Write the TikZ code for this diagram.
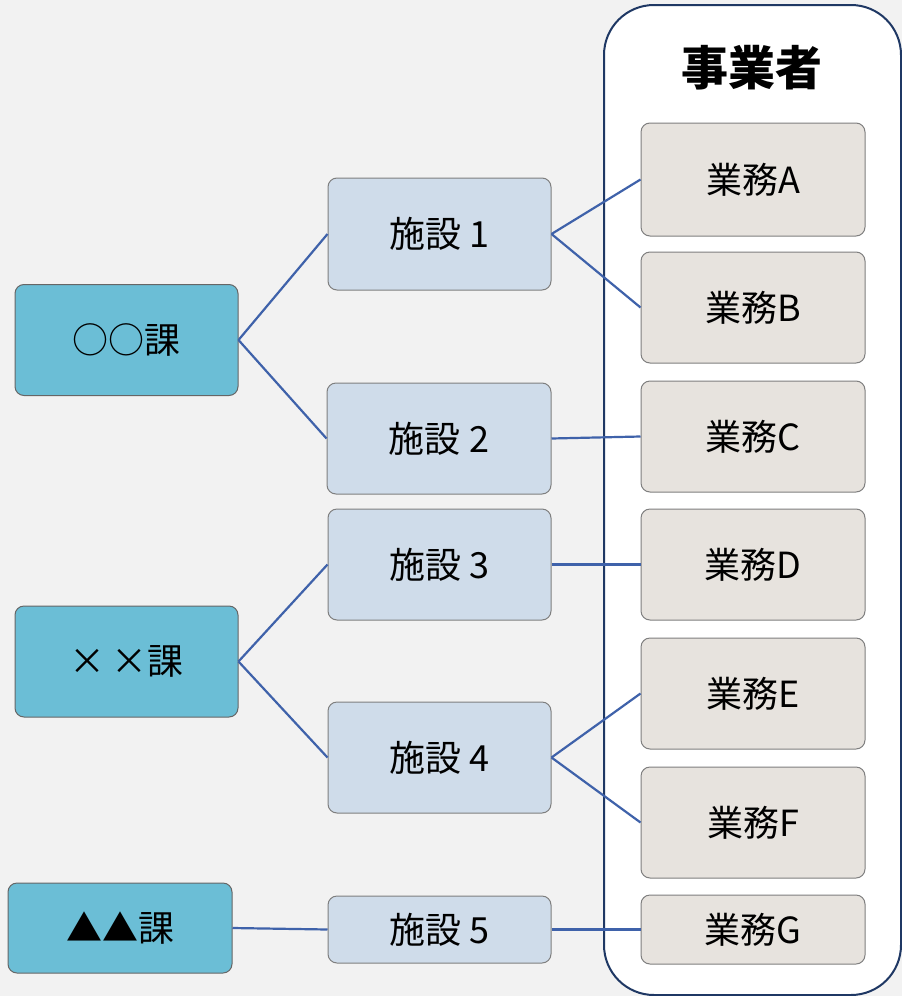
\documentclass[tikz,border=0pt]{standalone}
\usepackage{fontspec}
\setmainfont{Noto Sans CJK JP}
\definecolor{bg}{HTML}{F2F2F2}
\definecolor{kafill}{HTML}{6BBED6}
\definecolor{shfill}{HTML}{CFDCEA}
\definecolor{gyfill}{HTML}{E7E3DE}
\definecolor{edgecol}{HTML}{3F62AA}
\definecolor{bordercol}{HTML}{7F7F7F}
\definecolor{outercol}{HTML}{1F3864}
\tikzset{
  box/.style={draw=bordercol, line width=1pt, rounded corners=9pt, inner sep=0pt,
    font=\fontsize{36}{42}\selectfont},
  ka/.style={box, fill=kafill, draw=black!60},
  shisetsu/.style={box, fill=shfill},
  gyomu/.style={box, fill=gyfill},
  link/.style={draw=edgecol, line width=2.2pt},
}
\begin{document}
\begin{tikzpicture}[x=1pt,y=-1pt]
\useasboundingbox (0,0) rectangle (902,996);
\fill[bg] (0,0) rectangle (902,996);
% outer container
\draw[outercol, line width=2pt, fill=white, rounded corners=50pt] (604,5) rectangle (901,995);
\node[font=\fontsize{47}{52}\selectfont\bfseries] (title) at (752,68) {事業者};
% ka nodes
\node[ka, minimum width=223pt, minimum height=111pt] (k1) at (126.5,340) {○○課};
\node[ka, minimum width=223pt, minimum height=111pt] (k2) at (126.5,661.5) {×\,×課};
\node[ka, minimum width=224pt, minimum height=90pt] (k3) at (120,928) {▲▲課};
% shisetsu
\node[shisetsu, minimum width=223pt, minimum height=112pt] (s1) at (439.5,234) {施設 1};
\node[shisetsu, minimum width=224pt, minimum height=111pt] (s2) at (439,438.5) {施設 2};
\node[shisetsu, minimum width=223pt, minimum height=111pt] (s3) at (439.5,564.5) {施設 3};
\node[shisetsu, minimum width=223pt, minimum height=111pt] (s4) at (439.5,757.5) {施設 4};
\node[shisetsu, minimum width=223pt, minimum height=67pt] (s5) at (439.5,929.5) {施設 5};
% gyomu
\node[gyomu, minimum width=224pt, minimum height=113pt] (gA) at (753,179.5) {業務A};
\node[gyomu, minimum width=224pt, minimum height=111pt] (gB) at (753,307.5) {業務B};
\node[gyomu, minimum width=224pt, minimum height=111pt] (gC) at (753,436.5) {業務C};
\node[gyomu, minimum width=224pt, minimum height=111pt] (gD) at (753,564.5) {業務D};
\node[gyomu, minimum width=224pt, minimum height=111pt] (gE) at (753,693.5) {業務E};
\node[gyomu, minimum width=224pt, minimum height=111pt] (gF) at (753,822.5) {業務F};
\node[gyomu, minimum width=224pt, minimum height=69pt] (gG) at (753,929.5) {業務G};
% links
\draw[link] (k1.east) -- (s1.west);
\draw[link] (k1.east) -- (s2.west);
\draw[link] (k2.east) -- (s3.west);
\draw[link] (k2.east) -- (s4.west);
\draw[link] (k3.east) -- (s5.west);
\draw[link] (s1.east) -- (gA.west);
\draw[link] (s1.east) -- (gB.west);
\draw[link] (s2.east) -- (gC.west);
\draw[link] (s3.east) -- (gD.west);
\draw[link] (s4.east) -- (gE.west);
\draw[link] (s4.east) -- (gF.west);
\draw[link] (s5.east) -- (gG.west);
\end{tikzpicture}
\end{document}
